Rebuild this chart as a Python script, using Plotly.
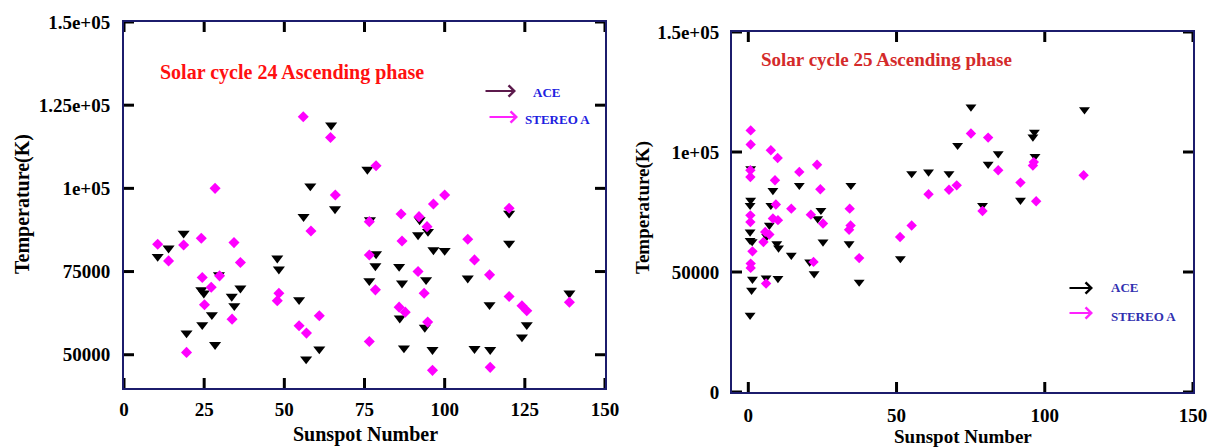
import plotly.graph_objects as go

# ---------------- data ----------------
# Solar cycle 24 (left panel)
c24_ace_ssn = [10.5, 13.9, 18.6, 19.5, 24.1, 24.9, 24.4, 27.4, 28.4, 29.6, 33.6, 34.4, 36.3,
               47.8, 48.3, 54.6, 56.0, 56.8, 58.1, 60.9, 64.6, 65.8, 75.9, 76.7, 76.5, 78.6,
               78.4, 85.8, 86.7, 86.0, 87.3, 91.7, 92.2, 93.8, 94.2, 94.8, 96.5, 96.2, 100.0,
               107.2, 109.3, 114.0, 114.2, 120.1, 120.1, 124.1, 125.6, 138.9]
c24_ace_temp = [79500, 82000, 86500, 56500, 69500, 68500, 59000, 62000, 53000, 74000, 67500,
                64700, 70000, 79000, 75700, 66500, 91500, 48700, 100700, 51700, 119000, 93800,
                105700, 90500, 72200, 80300, 76700, 76500, 71500, 61000, 52000, 86000, 90500,
                58200, 72500, 87000, 81500, 51500, 81300, 73000, 51800, 65000, 51500, 92500,
                83500, 55300, 59000, 68500]
c24_sta_ssn = [10.5, 13.9, 18.6, 19.5, 24.1, 24.4, 25.1, 27.2, 28.4, 29.8, 34.3, 33.7, 36.3,
               47.8, 48.3, 54.6, 55.9, 56.9, 58.3, 60.9, 64.4, 65.9, 76.5, 76.5, 76.5, 78.6,
               78.4, 86.4, 86.7, 85.8, 87.7, 91.7, 92.0, 93.6, 94.5, 94.7, 96.5, 96.2, 100.0,
               107.2, 109.3, 114.0, 114.2, 120.1, 120.1, 124.1, 125.6, 138.9]
c24_sta_temp = [83200, 78200, 83000, 50700, 85000, 73200, 65000, 70300, 100000, 73700, 83700,
                60700, 77700, 66200, 68500, 58700, 121500, 56500, 87200, 61700, 115300, 98000,
                80000, 90000, 54000, 106800, 69500, 92300, 84200, 64300, 62800, 75000, 91500,
                68500, 88500, 59800, 95300, 45300, 98000, 84700, 78500, 74000, 46200, 94000,
                67500, 64700, 63200, 65800]

# Solar cycle 25 (right panel)
c25_ace_ssn = [0.8, 8.3, 17.2, 0.8, 0.6, 7.6, 24.5, 23.4, 0.6, 0.6, 1.3, 7.1, 6.2, 9.6, 10.2,
               14.5, 25.2, 20.7, 22.2, 1.4, 1.1, 6.0, 10.0, 0.6,
               34.6, 34.0, 37.4, 51.3, 55.1, 60.8, 67.7, 70.6, 75.1, 79.0, 80.9, 84.3, 91.8,
               96.5, 96.0, 96.7, 113.4]
c25_ace_temp = [93100, 84000, 86100, 79900, 77800, 77800, 75700, 72200, 66700, 63200, 62700,
                69500, 64800, 61800, 60000, 57000, 62500, 54200, 49300, 47000, 42400, 47500,
                47300, 32000,
                86100, 61800, 45800, 55600, 91000, 91700, 91000, 102800, 118750, 77800, 94900,
                99300, 79900, 108300, 106250, 98200, 117650]
c25_sta_ssn = [0.8, 0.8, 7.6, 9.9, 0.7, 0.7, 17.2, 23.2, 9.0, 24.3, 9.3, 14.5, 21.1, 0.7, 0.7,
               8.3, 10.0, 25.2, 5.7, 7.1, 5.1, 1.4, 0.8, 0.8, 22.0, 6.0,
               34.2, 34.5, 34.0, 37.4, 51.2, 55.1, 60.8, 67.7, 70.3, 75.1, 79.0, 80.9, 84.3,
               91.8, 96.3, 96.0, 97.1, 113.1]
c25_sta_temp = [109000, 103100, 100700, 97500, 92400, 89600, 91700, 94700, 88200, 84500, 78100,
                76400, 73900, 73600, 70800, 72300, 71600, 70200, 66700, 65600, 62500, 58600,
                53500, 51700, 54200, 45200,
                76400, 69400, 67600, 55800, 64600, 69400, 82400, 84300, 86100, 107700, 75400,
                106000, 92400, 87250, 95800, 94400, 79450, 90300]

left_xticks = [0, 25, 50, 75, 100, 125, 150]
left_yticks = [50000, 75000, 100000, 125000, 150000]
left_yticklabels = ["50000", "75000", "1e+05", "1.25e+05", "1.5e+05"]
right_xticks = [0, 50, 100, 150]
right_yticks = [0, 50000, 100000, 150000]
right_yticklabels = ["0", "50000", "1e+05", "1.5e+05"]

# ---------------- figure ----------------
# the page has an 8px body margin: the figure occupies screen pixels 8..1216 x 8..448
OFF = 8
W, H = 1216 - OFF, 448 - OFF
def px(x):
    return (x - OFF) / W
def py(y):
    return 1 - (y - OFF) / H

SERIF = "Liberation Serif"
FRAME = "#1c1c6c"
TICKLEN = 10

fig = go.Figure()
fig.add_trace(go.Scatter(x=c24_ace_ssn, y=c24_ace_temp, mode="markers", xaxis="x", yaxis="y",
                         marker=dict(symbol="triangle-down", size=10.5, color="black"),
                         showlegend=False))
fig.add_trace(go.Scatter(x=c24_sta_ssn, y=c24_sta_temp, mode="markers", xaxis="x", yaxis="y",
                         marker=dict(symbol="diamond", size=8.5, color="#ff00ff"),
                         showlegend=False))
fig.add_trace(go.Scatter(x=c25_ace_ssn, y=c25_ace_temp, mode="markers", xaxis="x2", yaxis="y2",
                         marker=dict(symbol="triangle-down", size=9.5, color="black"),
                         showlegend=False))
fig.add_trace(go.Scatter(x=c25_sta_ssn, y=c25_sta_temp, mode="markers", xaxis="x2", yaxis="y2",
                         marker=dict(symbol="diamond", size=8, color="#ff00ff"),
                         showlegend=False))

axis_common = dict(showline=True, linecolor=FRAME, linewidth=2, mirror=True, ticks="",
                   showgrid=False, zeroline=False, automargin=False)

fig.update_layout(
    template="none",
    width=W, height=H,
    margin=dict(l=0, r=0, t=0, b=0),
    paper_bgcolor="white", plot_bgcolor="white",
    xaxis=dict(domain=[px(124), px(605)], range=[0, 150], anchor="y",
               tickmode="array", tickvals=left_xticks, ticklabelstandoff=3,
               tickfont=dict(family=SERIF, size=19, color="black", weight="bold"),
               **axis_common),
    yaxis=dict(domain=[py(388), py(22)], range=[40000, 150000], anchor="x",
               tickmode="array", tickvals=left_yticks, ticktext=left_yticklabels,
               ticklabelstandoff=8,
               tickfont=dict(family=SERIF, size=19, color="black", weight="bold"),
               **axis_common),
    xaxis2=dict(domain=[px(732), px(1193)], range=[-5.5, 150], anchor="y2",
                tickmode="array", tickvals=right_xticks, ticklabelstandoff=5,
                tickfont=dict(family=SERIF, size=19, color="black", weight="bold"),
                **axis_common),
    yaxis2=dict(domain=[py(392), py(32)], range=[0, 150000], anchor="x2",
                tickmode="array", tickvals=right_yticks, ticktext=right_yticklabels,
                ticklabelstandoff=7,
                tickfont=dict(family=SERIF, size=19, color="black", weight="bold"),
                **axis_common),
)

# inside tick marks on all four sides of each frame, placed at the axis tick values
shapes = []
def xticks(xref, yref, vals):
    for v in vals:
        for anchor in (0, 1):
            shapes.append(dict(type="line", xref=xref, yref=yref + " domain",
                               x0=v, x1=v, ysizemode="pixel", yanchor=anchor,
                               y0=0, y1=TICKLEN if anchor == 0 else -TICKLEN,
                               line=dict(color="black", width=3)))
def yticks(xref, yref, vals):
    for v in vals:
        for anchor in (0, 1):
            shapes.append(dict(type="line", xref=xref + " domain", yref=yref,
                               y0=v, y1=v, xsizemode="pixel", xanchor=anchor,
                               x0=0, x1=TICKLEN if anchor == 0 else -TICKLEN,
                               line=dict(color="black", width=3)))
xticks("x", "y", left_xticks)
yticks("x", "y", left_yticks)
xticks("x2", "y2", right_xticks)
yticks("x2", "y2", right_yticks)

ann = []
def text(x, y, s, size, color, xanchor="center", angle=0):
    ann.append(dict(x=px(x), y=py(y), xref="paper", yref="paper", text=s, showarrow=False,
                    xanchor=xanchor, yanchor="middle", textangle=angle,
                    font=dict(family=SERIF, size=size, color=color, weight="bold")))

def arrow(x0, x1, y, color):
    ann.append(dict(x=px(x1), y=py(y), xref="paper", yref="paper", text="",
                    showarrow=True, ax=-(x1 - x0), ay=0, axref="pixel", ayref="pixel",
                    arrowhead=4, arrowsize=1.1, arrowwidth=2, arrowcolor=color))

# axis titles
text(365, 434, "Sunspot Number", 20, "black")
text(22, 204, "Temperature(K)", 20, "black", angle=-90)
text(963, 436, "Sunspot Number", 19, "black")
text(643, 208, "Temperature(K)", 19, "black", angle=-90)

# panel titles
text(292, 72, "Solar cycle 24 Ascending phase", 20, "#ff1010")
text(886, 60, "Solar cycle 25 Ascending phase", 19, "#d42a2a")

# legends (arrow + label)
arrow(484, 516, 91, "#5c1a4c")
text(531, 93, "ACE", 13, "#2020e0", xanchor="left")
arrow(488, 518, 117, "#ff22ff")
text(523, 120, "STEREO A", 13, "#2020e0", xanchor="left")

arrow(1068, 1093, 288, "black")
text(1109, 287, "ACE", 13, "#3030b0", xanchor="left")
arrow(1068, 1093, 313, "#ff22ff")
text(1109, 316, "STEREO A", 13, "#3030b0", xanchor="left")

fig.update_layout(annotations=ann, shapes=shapes)
fig.write_html("out.html")
